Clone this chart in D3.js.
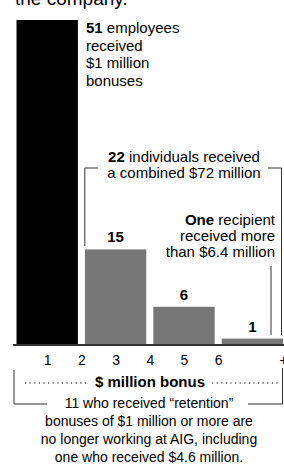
<!DOCTYPE html>
<html>
<head>
<meta charset="utf-8">
<script src="https://cdn.jsdelivr.net/npm/d3@7"></script>
<style>
  html, body { margin: 0; padding: 0; background: #fff; }
  svg { display: block; font-family: "Liberation Sans", Arial, Helvetica, sans-serif; }
</style>
</head>
<body>
<script>
// ---- data ----
const binStart = [0, 2, 4, 6];
const binEnd = [2, 4, 6, 8];
const counts = [51, 15, 6, 1];
const tickValues = [1, 2, 3, 4, 5, 6, 7.9];
const tickLabels = ["1", "2", "3", "4", "5", "6", "+"];
const axisTitle = "$ million bonus";
const headline = "the company.";
const note51 = [["51", " employees"], ["", "received"], ["", "$1 million"], ["", "bonuses"]];
const note22 = [["22", " individuals received"], ["", "a combined $72 million"]];
const noteOne = [["One", " recipient"], ["", "received more"], ["", "than $6.4 million"]];
const noteBottom = ["11 who received “retention”", "bonuses of $1 million or more are",
  "no longer working at AIG, including", "one who received $4.6 million."];

// ---- chart ----
const W = 284, H = 469;
const svg = d3.select("body").append("svg").attr("width", W).attr("height", H);

const x = d3.scaleLinear().domain([0, 8]).range([13, 13 + 8 * 34.2]);
const y = d3.scaleLinear().domain([0, 51]).range([345, 20]);

// headline (cut off at top)
svg.append("text").attr("x", 15).attr("y", 5).attr("font-size", 19).attr("fill", "#000").text(headline);

// bars
const pad = 3.5;
svg.selectAll("rect.bar").data(counts).enter().append("rect")
  .attr("class", "bar")
  .attr("x", (d, i) => x(binStart[i]) + pad)
  .attr("width", (d, i) => x(binEnd[i]) - x(binStart[i]) - 2 * pad)
  .attr("y", d => y(d))
  .attr("height", d => y(0) - y(d))
  .attr("fill", (d, i) => i === 0 ? "#000" : "#777");

// count labels (bars 2..4)
svg.selectAll("text.cnt").data(counts.slice(1)).enter().append("text")
  .attr("class", "cnt")
  .attr("x", (d, i) => (x(binStart[i + 1]) + x(binEnd[i + 1])) / 2)
  .attr("y", d => y(d) - 7)
  .attr("text-anchor", "middle").attr("font-size", 15).attr("font-weight", "bold")
  .text(d => d);

// axis
const axis = d3.axisBottom(x).tickValues(tickValues).tickSize(0).tickPadding(0)
  .tickFormat((d, i) => tickLabels[i]);
const gAx = svg.append("g").attr("transform", `translate(0,${y(0)})`).call(axis);
gAx.select(".domain").remove();
gAx.selectAll("text").attr("dy", null).attr("y", 20).attr("font-size", 14)
  .attr("font-family", "Liberation Sans, Arial, sans-serif").attr("fill", "#000");
svg.append("line").attr("x1", x(0)).attr("x2", W).attr("y1", y(0)).attr("y2", y(0))
  .attr("stroke", "#333").attr("stroke-width", 2);

// multi-part text helper
function rich(lines, xPos, y0, dy, anchor, size) {
  const t = svg.append("text").attr("font-size", size).attr("text-anchor", anchor).attr("fill", "#000");
  lines.forEach((l, i) => {
    const ts = t.append("tspan").attr("x", xPos).attr("y", y0 + i * dy);
    if (l[0]) ts.append("tspan").attr("font-weight", "bold").text(l[0]);
    ts.append("tspan").text(l[1]);
  });
}

rich(note51, 86, 33, 17.5, "start", 15);
rich(note22, 184, 162, 16, "middle", 15);
rich(noteOne, 275, 225, 16, "end", 15);

const ln = { stroke: "#333", "stroke-width": 1, fill: "none" };
function path(d) {
  const p = svg.append("path").attr("d", d);
  Object.entries(ln).forEach(([k, v]) => p.attr(k, v));
}
// bracket for 22
path(`M${x(2.1)},246 V168 H98`);
path(`M268,168 H281.5 V335`);
// pointer for the one recipient
path(`M271,266 V335`);

// axis title with dotted leaders
svg.append("text").attr("x", 150).attr("y", 387).attr("text-anchor", "middle")
  .attr("font-size", 15).attr("font-weight", "bold").text(axisTitle);
[[25, 86], [212, 278]].forEach(([a, b]) => {
  svg.append("line").attr("x1", a).attr("x2", b).attr("y1", 383).attr("y2", 383)
    .attr("stroke", "#000").attr("stroke-width", 1.2).attr("stroke-dasharray", "1.2,3.4");
});

// bottom bracket
path(`M14,370 V404 H47`);
path(`M248,404 H282.5 V368`);

noteBottom.forEach((s, i) => {
  svg.append("text").attr("x", 149).attr("y", 408 + i * 18).attr("text-anchor", "middle")
    .attr("font-size", 14).attr("fill", "#000").text(s);
});
</script>
</body>
</html>
